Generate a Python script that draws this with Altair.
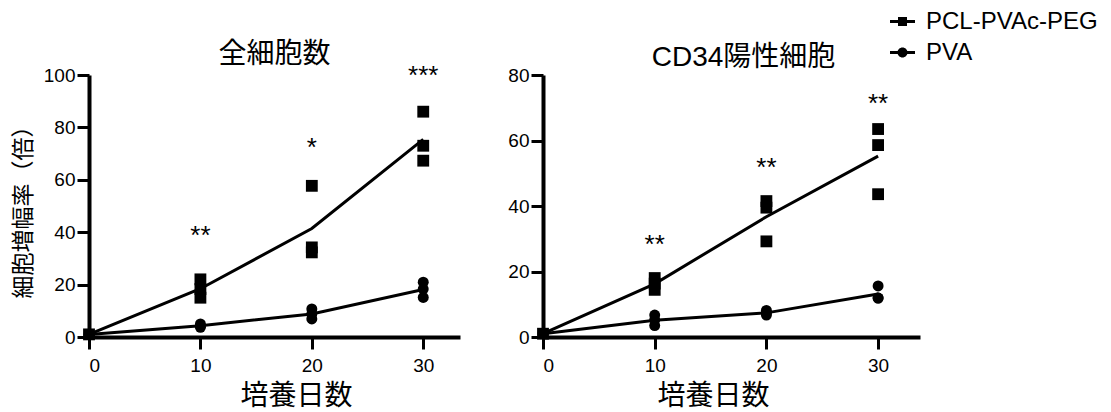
import altair as alt
import pandas as pd

# ---------------- data ----------------
series_names = ["PCL-PVAc-PEG", "PVA"]
days = [0, 10, 10, 10, 20, 20, 20, 30, 30, 30]

total_pcl = [1, 22.0, 18.3, 15.0, 57.7, 34.2, 32.3, 86.0, 73.0, 67.3]
total_pva = [1, 5.0, 4.2, 3.7, 10.7, 8.8, 6.9, 20.9, 18.3, 15.1]

cd34_pcl = [1, 18.0, 16.3, 14.4, 41.5, 39.5, 29.2, 63.5, 58.6, 43.6]
cd34_pva = [1, 6.7, 5.2, 3.5, 8.1, 7.3, 6.7, 15.6, 11.9, 11.9]

star_days = [10, 20, 30]
total_star_labels = ["**", "*", "***"]
total_star_y = [40.0, 73.7, 101.0]
cd34_star_labels = ["**", "**", "**"]
cd34_star_y = [29.2, 52.8, 72.5]

x_ticks = [0, 10, 20, 30]
total_y_ticks = [0, 20, 40, 60, 80, 100]
cd34_y_ticks = [0, 20, 40, 60, 80]

FONT = "Liberation Sans, Noto Sans CJK JP, sans-serif"

SQUARE_SYM = "M-1,-0.12H1V0.12H-1Z M-0.36,-0.36H0.36V0.36H-0.36Z"
CIRCLE_SYM = ("M-1,-0.12H1V0.12H-1Z M0.4,0A0.4,0.4,0,1,1,-0.4,0"
              "A0.4,0.4,0,1,1,0.4,0Z")


def make_df(pcl, pva):
    rows = []
    for d, v in zip(days, pcl):
        rows.append({"day": d, "value": v, "series": series_names[0]})
    for d, v in zip(days, pva):
        rows.append({"day": d, "value": v, "series": series_names[1]})
    return pd.DataFrame(rows)


def panel(pcl, pva, star_labels, star_y, ymax, yticks, width, xmax,
          ytitle, title, title_dx, xtitle_x, with_legend):
    df = make_df(pcl, pva)
    sdf = pd.DataFrame({"day": star_days, "y": star_y, "label": star_labels})

    xs = alt.Scale(domain=[0, xmax], nice=False)
    ys = alt.Scale(domain=[0, ymax], nice=False)
    xax = alt.Axis(values=x_ticks, labelPadding=7, title="培養日数",
                   titleFontSize=28, titlePadding=7, titleX=xtitle_x,
                   labelAngle=0)
    if ytitle:
        yax = alt.Axis(values=yticks, labelPadding=2, title=ytitle,
                       titleFontSize=23, titlePadding=8)
    else:
        yax = alt.Axis(values=yticks, labelPadding=2, title=None)

    base = alt.Chart(df)
    lines = base.mark_line(color="black", strokeWidth=3).encode(
        x=alt.X("day:Q", scale=xs, axis=xax),
        y=alt.Y("mean(value):Q", scale=ys, axis=yax),
        detail="series:N",
    )
    squares = base.transform_filter(
        alt.datum.series == series_names[0]
    ).mark_point(shape="square", filled=True, color="black", size=140,
                 opacity=1).encode(x=alt.X("day:Q", scale=xs, axis=xax),
                                   y=alt.Y("value:Q", scale=ys, axis=yax))
    circles = base.transform_filter(
        alt.datum.series == series_names[1]
    ).mark_point(shape="circle", filled=True, color="black", size=120,
                 opacity=1).encode(x=alt.X("day:Q", scale=xs, axis=xax),
                                   y=alt.Y("value:Q", scale=ys, axis=yax))
    stars = alt.Chart(sdf).mark_text(
        font=FONT, fontSize=26, color="black", baseline="middle", dy=4
    ).encode(x=alt.X("day:Q", scale=xs, axis=xax),
             y=alt.Y("y:Q", scale=ys, axis=yax), text="label:N")

    layers = [lines, squares, circles, stars]
    if with_legend:
        leg = base.transform_filter("false").mark_point(
            filled=True, color="black", opacity=1
        ).encode(
            x=alt.X("day:Q", scale=xs, axis=xax),
            y=alt.Y("value:Q", scale=ys, axis=yax),
            shape=alt.Shape(
                "series:N",
                scale=alt.Scale(domain=series_names,
                                range=[SQUARE_SYM, CIRCLE_SYM]),
                legend=alt.Legend(
                    title=None, orient="none", legendX=801, legendY=-66,
                    symbolSize=625, symbolStrokeWidth=0,
                    symbolFillColor="black", symbolOpacity=1,
                    labelFont=FONT, labelFontSize=24,
                    labelColor="black", labelOffset=11, rowPadding=6,
                    padding=0, offset=0, labelLimit=0,
                ),
            ),
        )
        layers.append(leg)

    return alt.layer(*layers).properties(
        width=width, height=262,
        title=alt.TitleParams(title, font=FONT, fontSize=28,
                              fontWeight="normal", color="black", offset=-6,
                              dx=title_dx),
    )


left = panel(total_pcl, total_pva, total_star_labels, total_star_y, 100,
             total_y_ticks, 371, 33.3, "細胞増幅率（倍）", "全細胞数", 0, 207,
             False)
right = panel(cd34_pcl, cd34_pva, cd34_star_labels, cd34_star_y, 80,
              cd34_y_ticks, 377, 33.75, None, "CD34陽性細胞", 12, 170, True)

chart = alt.HConcatChart(hconcat=[left, right], spacing=83, bounds="flush") \
    .configure_view(stroke=None) \
    .configure_axis(
        grid=False, domainColor="black", domainWidth=4, tickColor="black",
        tickWidth=3, tickSize=12, labelFont=FONT, labelFontSize=19,
        labelColor="black", titleFont=FONT, titleColor="black",
        titleFontWeight="normal",
    ) \
    .properties(background="white",
                padding={"left": 4, "top": 1, "right": 0, "bottom": 0})

chart.save("out.html", embed_options={"renderer": "svg", "actions": False})
